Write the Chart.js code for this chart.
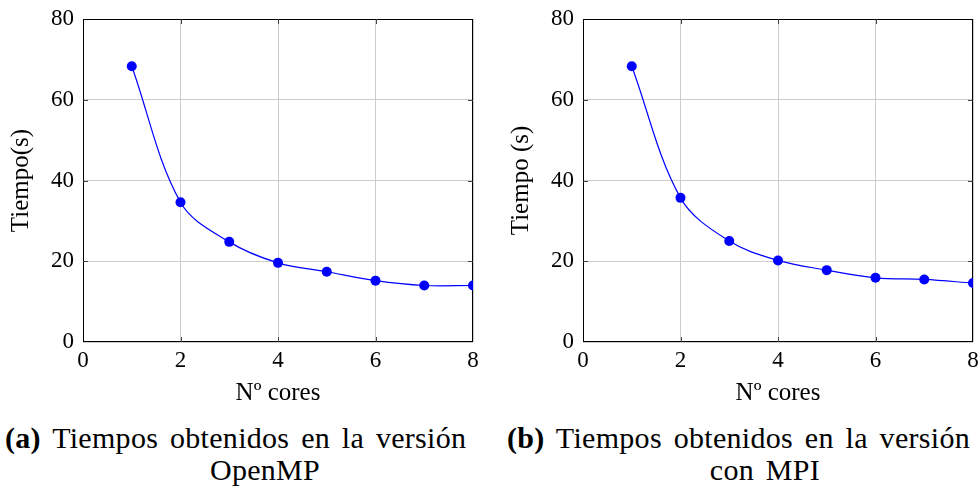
<!DOCTYPE html>
<html>
<head>
<meta charset="utf-8">
<script src="https://cdn.jsdelivr.net/npm/chart.js@4.4.1/dist/chart.umd.min.js"></script>
<style>
  body { margin: 0; background: #fff; width: 980px; height: 493px; position: relative; overflow: hidden; font-family: "Liberation Serif", serif; }
  .box { position: absolute; top: 0; width: 480px; height: 420px; }
  .cap { position: absolute; font-size: 30px; color: #000; white-space: nowrap; line-height: 32px; letter-spacing: 0.3px; word-spacing: 4px; }
</style>
</head>
<body>
<div class="box" style="left:0"><canvas id="chartA" width="480" height="420"></canvas></div>
<div class="box" style="left:500px"><canvas id="chartB" width="480" height="420"></canvas></div>
<div class="cap" style="left:5px;top:422px"><b>(a)</b> Tiempos obtenidos en la versión</div>
<div class="cap" style="left:165px;top:454px;width:200px;text-align:center">OpenMP</div>
<div class="cap" style="left:507px;top:422px"><b>(b)</b> Tiempos obtenidos en la versión</div>
<div class="cap" style="left:665px;top:454px;width:200px;text-align:center">con MPI</div>
<script>
const cores = [1, 2, 3, 4, 5, 6, 7, 8];
const tiemposOpenMP = [68.3, 34.6, 24.8, 19.6, 17.4, 15.2, 14.0, 14.0];
const tiemposMPI = [68.3, 35.7, 25.0, 20.2, 17.8, 15.9, 15.5, 14.6];
const xTicks = [0, 2, 4, 6, 8];
const yTicks = [0, 20, 40, 60, 80];

const serif = '"Liberation Serif", serif';

// pgfplots style box with inward tick marks
const framePlugin = {
  id: 'frame',
  beforeDatasetsDraw(chart) {
    const {ctx, chartArea: a, scales} = chart;
    ctx.save();
    ctx.strokeStyle = '#000';
    ctx.lineWidth = 1;
    ctx.strokeRect(a.left + 0.5, a.top + 0.5, a.right - a.left - 1, a.bottom - a.top - 1);
    ctx.strokeStyle = '#444';
    ctx.beginPath();
    xTicks.slice(1, -1).forEach(v => {
      const px = Math.round(scales.x.getPixelForValue(v)) + 0.5;
      ctx.moveTo(px, a.bottom); ctx.lineTo(px, a.bottom - 5);
      ctx.moveTo(px, a.top); ctx.lineTo(px, a.top + 5);
    });
    yTicks.slice(1, -1).forEach(v => {
      const py = Math.round(scales.y.getPixelForValue(v)) + 0.5;
      ctx.moveTo(a.left, py); ctx.lineTo(a.left + 5, py);
      ctx.moveTo(a.right, py); ctx.lineTo(a.right - 5, py);
    });
    ctx.stroke();
    ctx.restore();
  }
};

function makeChart(id, values, yTitle) {
  return new Chart(document.getElementById(id), {
    type: 'line',
    data: {
      datasets: [{
        data: cores.map((c, i) => ({x: c, y: values[i]})),
        borderColor: '#0000ff',
        backgroundColor: '#0000ff',
        borderWidth: 1.2,
        pointRadius: 5,
        pointBorderWidth: 0,
        tension: 0.35,
        fill: false
      }]
    },
    options: {
      responsive: false,
      animation: false,
      layout: { padding: { top: 19, right: 0, left: 0, bottom: 0 } },
      plugins: { legend: { display: false }, tooltip: { enabled: false } },
      scales: {
        x: {
          type: 'linear', min: 0, max: 8,
          afterBuildTicks: s => { s.ticks = xTicks.map(v => ({value: v})); },
          afterFit: s => { s.height = 78; s.paddingLeft = 0; s.paddingRight = 7; },
          ticks: { color: '#000', font: { family: serif, size: 23 }, padding: 5 },
          grid: { color: '#cccccc', drawTicks: false },
          border: { display: false },
          title: { display: true, text: 'Nº cores', color: '#000', font: { family: serif, size: 25 }, padding: { top: 0, bottom: 12 } }
        },
        y: {
          min: 0, max: 80,
          afterBuildTicks: s => { s.ticks = yTicks.map(v => ({value: v})); },
          afterFit: s => { s.width = 83; s.paddingTop = 0; s.paddingBottom = 0; },
          ticks: { color: '#000', font: { family: serif, size: 23 }, padding: 9 },
          grid: { color: '#cccccc', drawTicks: false },
          border: { display: false },
          title: { display: true, text: yTitle, color: '#000', font: { family: serif, size: 25 }, padding: { top: 6, bottom: 0 } }
        }
      }
    },
    plugins: [framePlugin]
  });
}

makeChart('chartA', tiemposOpenMP, 'Tiempo(s)');
makeChart('chartB', tiemposMPI, 'Tiempo (s)');
</script>
</body>
</html>
